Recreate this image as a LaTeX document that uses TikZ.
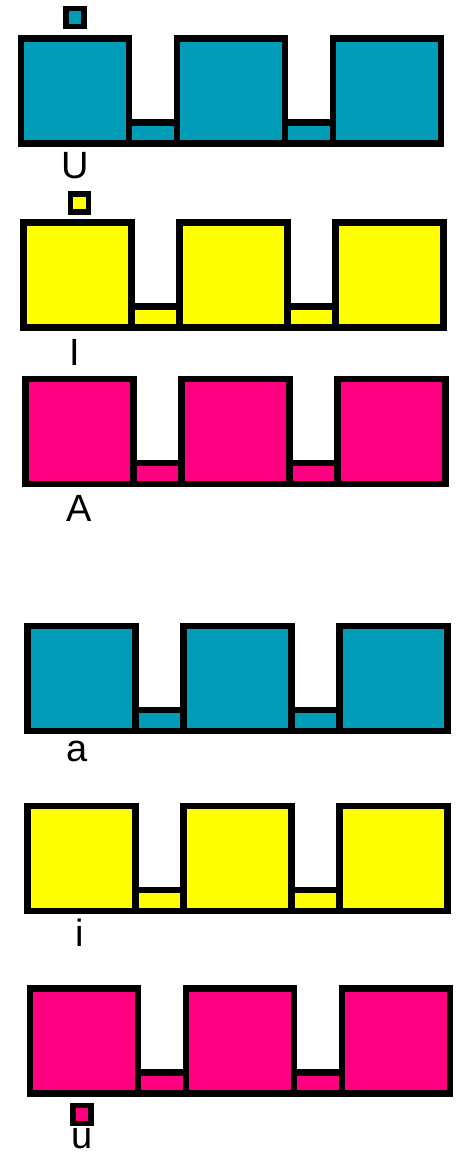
\documentclass[tikz,border=0pt]{standalone}
\usepackage{fontspec}
\setmainfont{Liberation Sans}
\usetikzlibrary{positioning}
\definecolor{tealk}{RGB}{0,156,184}
\definecolor{yelk}{RGB}{255,255,0}
\definecolor{magk}{RGB}{255,0,128}
\tikzset{key/.style={draw,line width=6.5pt,line join=miter},flag/.style={draw,line width=5.5pt,minimum size=18pt,inner sep=0pt},lbl/.style={font=\fontsize{38}{40}\selectfont,inner sep=0pt,anchor=base}}

\begin{document}
\begin{tikzpicture}[x=1pt,y=-1pt]
\useasboundingbox(0,0)rectangle(462,1154);
\foreach\x/\y/\c/\t/\lx/\ly in{21/38.3/tealk/U/75.3/178,23.3/222.6/yelk/I/75/365.7,25.6/379/magk/A/79/521,27.6/626/tealk/a/76.7/761,27.6/806/yelk/i/79.5/946.7,30/988.3/magk/u/82/1148.5}{
\begin{scope}[shift={(\x,\y)}]
\foreach\b in{0,156,312}\filldraw[key,fill=\c](\b,0)rectangle+(108,105);
\foreach\g in{108,264}\filldraw[key,fill=\c](\g,84)rectangle+(48,21);
\end{scope}
\node[lbl](lab\t)at(\lx,\ly){\t};}
\node[flag,fill=tealk](flagU)at(75,17.7){};
\node[flag,fill=yelk](flagI)at(79.7,202.8){};
\node[flag,fill=magk](flagu)at(82,1114.7){};
\end{tikzpicture}
\end{document}
